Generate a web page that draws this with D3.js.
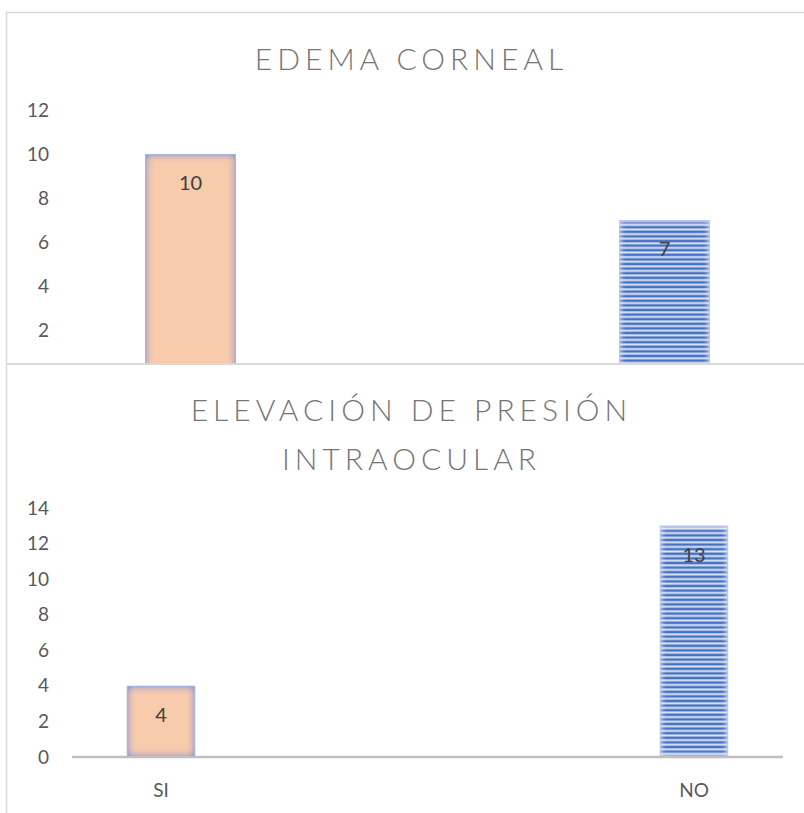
<!DOCTYPE html>
<html>
<head>
<meta charset="utf-8">
<script src="https://cdn.jsdelivr.net/npm/d3@7"></script>
<style>
  html, body { margin: 0; padding: 0; background: #fff; }
  svg { display: block; }
  text { font-family: Lato, "Open Sans", sans-serif; }
</style>
</head>
<body>
<svg id="chart" width="804" height="813"></svg>
<script>
// Categories and values for the two panels
const categories = ["SI", "NO"];
const edemaValues = [10, 7];
const presionValues = [4, 13];
const edemaTicks = [2, 4, 6, 8, 10, 12];
const presionTicks = [0, 2, 4, 6, 8, 10, 12, 14];
const edemaTitle = ["EDEMA CORNEAL"];
const presionTitle = ["ELEVACIÓN DE PRESIÓN", "INTRAOCULAR"];

const svg = d3.select("#chart");
const defs = svg.append("defs");

// Soft inner glow used on the bars
function innerGlow(id, color, std, gain) {
  const f = defs.append("filter").attr("id", id)
    .attr("x", "-20%").attr("y", "-20%").attr("width", "140%").attr("height", "140%");
  f.append("feFlood").attr("flood-color", color).attr("flood-opacity", 1).attr("result", "c");
  f.append("feComposite").attr("in", "c").attr("in2", "SourceAlpha").attr("operator", "out").attr("result", "inv");
  f.append("feGaussianBlur").attr("in", "inv").attr("stdDeviation", std).attr("result", "blur");
  const ct = f.append("feComponentTransfer").attr("in", "blur").attr("result", "boost");
  ct.append("feFuncA").attr("type", "linear").attr("slope", gain).attr("intercept", 0);
  f.append("feComposite").attr("in", "boost").attr("in2", "SourceAlpha").attr("operator", "in").attr("result", "glow");
  const m = f.append("feMerge");
  m.append("feMergeNode").attr("in", "SourceGraphic");
  m.append("feMergeNode").attr("in", "glow");
}
innerGlow("glowPeach", "#8193cf", 4, 1.5);
innerGlow("glowBlue", "#ffffff", 3, 0.8);

// Narrow horizontal stripe pattern for the "NO" bars
const pat = defs.append("pattern").attr("id", "stripes")
  .attr("patternUnits", "userSpaceOnUse").attr("width", 8).attr("height", 4.6);
pat.append("rect").attr("width", 8).attr("height", 4.6).attr("fill", "#dce4f2");
pat.append("rect").attr("y", 0.6).attr("width", 8).attr("height", 2.2).attr("fill", "#4472c4");
pat.append("rect").attr("y", 0).attr("width", 8).attr("height", 0.6).attr("fill", "#8eaadb");
pat.append("rect").attr("y", 2.8).attr("width", 8).attr("height", 0.6).attr("fill", "#8eaadb");

const fills = { SI: "#f7cbac", NO: "url(#stripes)" };
const glows = { SI: "url(#glowPeach)", NO: "url(#glowBlue)" };
const strokes = { SI: "#a6b6e2", NO: "#b8c9ea" };

// Frames
const frameColor = "#d9d9d9";
svg.append("line").attr("x1", 6.5).attr("x2", 6.5).attr("y1", 12).attr("y2", 813)
  .attr("stroke", frameColor).attr("stroke-width", 1.5);
svg.append("line").attr("x1", 6).attr("x2", 804).attr("y1", 12.5).attr("y2", 12.5)
  .attr("stroke", frameColor).attr("stroke-width", 1.5);

function panel(opts) {
  const g = svg.append("g");
  const clipId = opts.id + "-clip";
  defs.append("clipPath").attr("id", clipId)
    .append("rect").attr("x", 0).attr("y", opts.clipTop).attr("width", 804).attr("height", opts.clipBottom - opts.clipTop);
  const body = g.append("g").attr("clip-path", `url(#${clipId})`);

  const x = d3.scaleBand().domain(categories).range([72, 783])
    .paddingInner(opts.padInner).paddingOuter(opts.padOuter);
  const y = d3.scaleLinear().domain([0, opts.max]).range([opts.y0, opts.yMax]);

  // Title
  const title = g.append("text").attr("text-anchor", "middle")
    .attr("fill", "#757575").attr("font-size", opts.titleSize).attr("font-weight", 300)
    .attr("letter-spacing", opts.letterSpacing);
  opts.title.forEach((t, i) => {
    title.append("tspan").attr("x", 409 + opts.letterSpacing / 2)
      .attr("y", opts.titleY + i * opts.titleLine).text(t);
  });

  // Y axis labels
  const yAxis = d3.axisLeft(y).tickValues(opts.ticks).tickSize(0).tickPadding(9)
    .tickFormat(d3.format("d"));
  const ya = body.append("g").attr("transform", "translate(58,0)").call(yAxis);
  ya.select(".domain").remove();
  ya.selectAll("text").attr("fill", "#595959").attr("font-size", 19)
    .attr("font-family", "Lato, 'Open Sans', sans-serif");

  // Bars
  const data = categories.map((c, i) => ({ cat: c, value: opts.values[i] }));
  body.selectAll("rect.bar").data(data).join("rect").attr("class", "bar")
    .attr("x", d => x(d.cat)).attr("width", x.bandwidth())
    .attr("y", d => y(d.value)).attr("height", d => y(0) - y(d.value))
    .attr("fill", d => fills[d.cat]).attr("filter", d => glows[d.cat]);
  body.selectAll("rect.edge").data(data).join("rect").attr("class", "edge")
    .attr("x", d => x(d.cat) + 0.5).attr("width", x.bandwidth() - 1)
    .attr("y", d => y(d.value) + 0.5).attr("height", d => y(0) - y(d.value) - 1)
    .attr("fill", "none").attr("stroke", d => strokes[d.cat]).attr("stroke-width", 1);

  // Value labels inside the top of each bar
  body.selectAll("text.val").data(data).join("text").attr("class", "val")
    .attr("x", d => x(d.cat) + x.bandwidth() / 2).attr("y", d => y(d.value) + 36)
    .attr("text-anchor", "middle").attr("fill", "#404040").attr("font-size", 20)
    .text(d => d.value);

  // Baseline and category labels
  if (opts.showBase) {
    g.append("line").attr("x1", 72).attr("x2", 783).attr("y1", y(0)).attr("y2", y(0))
      .attr("stroke", "#bfbfbf").attr("stroke-width", 2.5);
    g.selectAll("text.cat").data(categories).join("text").attr("class", "cat")
      .attr("x", d => x(d) + x.bandwidth() / 2).attr("y", 797)
      .attr("text-anchor", "middle").attr("fill", "#595959").attr("font-size", 19)
      .text(d => d);
  }
}

panel({
  id: "edema", title: edemaTitle, values: edemaValues, ticks: edemaTicks, max: 12,
  y0: 374, yMax: 110, padInner: 0.808, padOuter: 0.154,
  clipTop: 13, clipBottom: 363, titleY: 70, titleLine: 0, titleSize: 30, letterSpacing: 5,
  showBase: false
});

// Divider between the two panels
svg.append("line").attr("x1", 6).attr("x2", 804).attr("y1", 364).attr("y2", 364)
  .attr("stroke", frameColor).attr("stroke-width", 2);

panel({
  id: "presion", title: presionTitle, values: presionValues, ticks: presionTicks, max: 14,
  y0: 757, yMax: 508, padInner: 0.872, padOuter: 0.103,
  clipTop: 365, clipBottom: 813, titleY: 421, titleLine: 49, titleSize: 30, letterSpacing: 5,
  showBase: true
});
</script>
</body>
</html>
